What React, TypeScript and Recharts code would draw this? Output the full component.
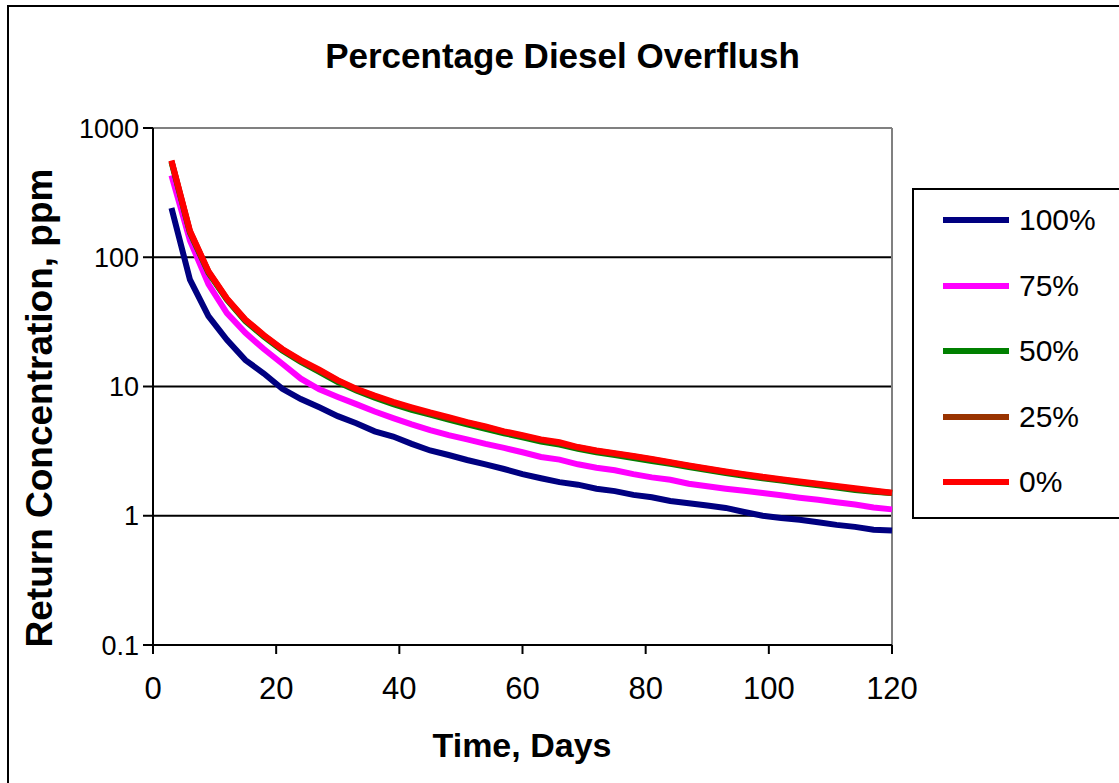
import { CartesianGrid, Line, LineChart, ReferenceLine, XAxis, YAxis } from "recharts";

const FONT = "'Liberation Sans', Arial, sans-serif";

const DAYS = [
  3, 6, 9, 12, 15, 18, 21, 24, 27, 30, 33, 36, 39, 42, 45, 48, 51, 54, 57, 60,
  63, 66, 69, 72, 75, 78, 81, 84, 87, 90, 93, 96, 99, 102, 105, 108, 111, 114, 117, 120,
];

const PCT_100 = [
  240, 67, 35, 23, 16, 12.6, 9.6, 8.0, 6.9, 5.9, 5.2, 4.5, 4.1, 3.6, 3.2, 2.95, 2.7, 2.5, 2.3, 2.1,
  1.95, 1.82, 1.74, 1.62, 1.55, 1.45, 1.39, 1.3, 1.25, 1.2, 1.15, 1.07, 1.0, 0.96, 0.93, 0.89, 0.85, 0.82, 0.78, 0.77,
];
const PCT_75 = [
  430, 135, 62, 37, 26, 19.5, 15, 11.5, 9.5, 8.3, 7.3, 6.4, 5.7, 5.1, 4.6, 4.2, 3.9, 3.6, 3.35, 3.1,
  2.85, 2.72, 2.5, 2.35, 2.25, 2.1, 1.98, 1.9, 1.77, 1.69, 1.62, 1.56, 1.5, 1.44, 1.38, 1.33, 1.27, 1.22, 1.16, 1.12,
];
const PCT_50 = [
  545, 155, 76, 47, 32, 24.3, 19, 15.5, 13, 10.8, 9.3, 8.2, 7.3, 6.6, 6.05, 5.55, 5.1, 4.7, 4.35, 4.05,
  3.75, 3.55, 3.3, 3.1, 2.95, 2.8, 2.65, 2.52, 2.38, 2.26, 2.14, 2.04, 1.95, 1.87, 1.79, 1.72, 1.65, 1.58, 1.53, 1.5,
];
const PCT_25 = [
  555, 158, 77.5, 47.5, 32.7, 24.8, 19.3, 15.8, 13.3, 11.1, 9.5, 8.4, 7.5, 6.8, 6.2, 5.7, 5.25, 4.85, 4.45, 4.15,
  3.85, 3.65, 3.37, 3.17, 3.02, 2.87, 2.72, 2.57, 2.43, 2.3, 2.18, 2.08, 1.98, 1.9, 1.82, 1.75, 1.68, 1.61, 1.55, 1.5,
];
const PCT_0 = [
  560, 160, 78, 48, 33, 25, 19.5, 16, 13.5, 11.2, 9.6, 8.5, 7.6, 6.9, 6.3, 5.8, 5.3, 4.9, 4.5, 4.2,
  3.9, 3.7, 3.4, 3.2, 3.05, 2.9, 2.75, 2.6, 2.45, 2.32, 2.2, 2.1, 2.0, 1.92, 1.84, 1.77, 1.7, 1.63, 1.57, 1.51,
];

const SERIES = [
  { key: "p100", name: "100%", color: "#000080", values: PCT_100 },
  { key: "p75", name: "75%", color: "#FF00FF", values: PCT_75 },
  { key: "p50", name: "50%", color: "#008000", values: PCT_50 },
  { key: "p25", name: "25%", color: "#993300", values: PCT_25 },
  { key: "p0", name: "0%", color: "#FF0000", values: PCT_0 },
];

const Y_TICKS = [0.1, 1, 10, 100, 1000];
const X_TICKS = [0, 20, 40, 60, 80, 100, 120];

const rows = DAYS.map((day, i) => {
  const row: Record<string, number> = { day };
  SERIES.forEach((s) => (row[s.key] = s.values[i]));
  return row;
});

const xTickStyle = { fontSize: 31, fill: "#000", fontFamily: FONT };
const yTickStyle = { fontSize: 27, fill: "#000", fontFamily: FONT };

function LegendBox() {
  return (
    <div
      style={{
        position: "absolute",
        left: 912,
        top: 188,
        width: 300,
        height: 327,
        borderTop: "2px solid #000",
        borderLeft: "2px solid #000",
        borderBottom: "2px solid #000",
        background: "#fff",
        fontFamily: FONT,
      }}
    >
      {SERIES.map((s, i) => (
        <div
          key={s.key}
          style={{
            position: "absolute",
            left: 29,
            top: 10 + i * 65.5,
            height: 40,
            display: "flex",
            alignItems: "center",
          }}
        >
          <div style={{ width: 66, height: 6, background: s.color }} />
          <span style={{ marginLeft: 10, fontSize: 30, color: "#000" }}>{s.name}</span>
        </div>
      ))}
    </div>
  );
}

export default function App() {
  return (
    <div
      style={{
        position: "absolute",
        left: 0,
        top: 0,
        width: 1119,
        height: 783,
        overflow: "hidden",
        background: "#fff",
        fontFamily: FONT,
      }}
    >
      <div
        style={{
          position: "absolute",
          left: 7,
          top: 5,
          width: 1200,
          height: 900,
          borderTop: "2px solid #000",
          borderLeft: "2px solid #000",
        }}
      />
      <div
        style={{
          position: "absolute",
          left: 0,
          width: 1119,
          top: 36,
          textAlign: "center",
          fontSize: 35,
          fontWeight: "bold",
          paddingLeft: 3,
        }}
      >
        Percentage Diesel Overflush
      </div>
      <div style={{ position: "absolute", left: 0, top: 0 }}>
        <LineChart
          width={1119}
          height={783}
          data={rows}
          margin={{ top: 128, right: 227, bottom: 38, left: 0 }}
        >
          <CartesianGrid vertical={false} stroke="#000" strokeWidth={2} />
          <XAxis
            dataKey="day"
            type="number"
            domain={[0, 120]}
            ticks={X_TICKS}
            height={100}
            tick={xTickStyle}
            tickSize={9}
            tickMargin={23}
            axisLine={{ stroke: "#000", strokeWidth: 2 }}
            tickLine={{ stroke: "#000", strokeWidth: 2 }}
          />
          <YAxis
            scale="log"
            domain={[0.1, 1000]}
            ticks={Y_TICKS}
            allowDataOverflow
            width={153}
            tick={yTickStyle}
            tickSize={10}
            tickMargin={4}
            tickFormatter={(v: number) => String(v)}
            axisLine={{ stroke: "#000", strokeWidth: 2 }}
            tickLine={{ stroke: "#000", strokeWidth: 2 }}
          />
          <ReferenceLine y={1000} stroke="#808080" strokeWidth={2} />
          <ReferenceLine x={120} stroke="#808080" strokeWidth={2} />
          {SERIES.map((s) => (
            <Line
              key={s.key}
              dataKey={s.key}
              name={s.name}
              type="linear"
              stroke={s.color}
              strokeWidth={6}
              dot={false}
              isAnimationActive={false}
            />
          ))}
        </LineChart>
      </div>
      <div
        style={{
          position: "absolute",
          left: 40,
          top: 408,
          transform: "translate(-50%, -50%) rotate(-90deg)",
          whiteSpace: "nowrap",
          fontSize: 37,
          fontWeight: "bold",
        }}
      >
        Return Concentration, ppm
      </div>
      <div
        style={{
          position: "absolute",
          left: 522,
          top: 745,
          transform: "translate(-50%, -50%)",
          whiteSpace: "nowrap",
          fontSize: 34,
          fontWeight: "bold",
        }}
      >
        Time, Days
      </div>
      <LegendBox />
    </div>
  );
}
